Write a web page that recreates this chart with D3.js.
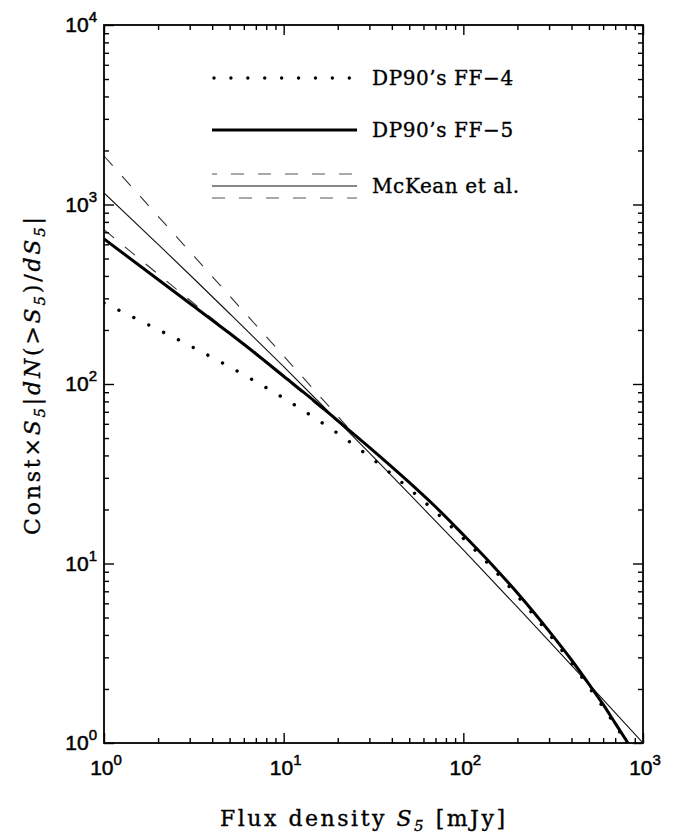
<!DOCTYPE html>
<html>
<head>
<meta charset="utf-8">
<script src="https://cdn.jsdelivr.net/npm/d3@7"></script>
<style>
  body { margin: 0; background: #fff; }
  text { font-family: "DejaVu Serif", serif; fill: #000; stroke: #000; stroke-width: 0.35; }
  .tick-label { font-family: "Liberation Sans", "DejaVu Sans", sans-serif; stroke-width: 0.5; }
</style>
</head>
<body>
<svg id="chart" width="674" height="840"></svg>
<script>
// Source counts at 5 GHz: S * |dN(>S)/dS| in arbitrary units.
const mckeanFlux  = [1, 2, 3, 5, 10, 20, 30, 50, 100, 200, 300, 500, 1000];
const mckeanValue = [1159, 600, 406, 247, 125, 62.2, 41.3, 24.4, 11.9, 5.71, 3.70, 2.13, 1.0];

// McKean et al. 1-sigma envelope (fitted range only)
const envelopeFlux  = [1, 24];
const envelopeUpper = [1862, 54];
const envelopeLower = [724, 53];

const ff5Flux  = [1, 2, 3, 5, 7, 10, 15, 20, 30, 50, 70, 100, 150, 200, 300, 400, 500, 600, 700, 825];
const ff5Value = [642.7, 382.4, 281.9, 191.6, 147.5, 110.5, 79.6, 62.5, 44.4, 28.3, 20.7, 14.45,
                  9.45, 6.85, 4.2, 2.9, 2.13, 1.64, 1.29, 1.0];

const ff4Flux  = [1, 2, 3, 5, 7, 10, 15, 20, 30, 50, 70, 100, 150, 200, 300, 400, 500, 600, 700, 814];
const ff4Value = [282.5, 200.9, 163.6, 124.6, 103.1, 83.4, 64.4, 53.0, 39.4, 26.1, 19.4, 13.8,
                  9.09, 6.59, 4.05, 2.79, 2.05, 1.58, 1.26, 1.0];

const xMajor = [1, 10, 100, 1000];
const yMajor = [1, 10, 100, 1000, 10000];
const xExponents = ["0", "1", "2", "3"];
const yExponents = ["0", "1", "2", "3", "4"];

const legendLabels = ["DP90\u2019s FF\u22124", "DP90\u2019s FF\u22125", "McKean et al."];

const svg = d3.select("#chart");
const plotL = 104, plotR = 643, plotT = 25, plotB = 743;

const x = d3.scaleLog().domain([1, 1000]).range([plotL, plotR]);
const y = d3.scaleLog().domain([1, 10000]).range([plotB, plotT]);

function minorTicks(majors) {
  const out = [];
  majors.slice(0, -1).forEach(m => { for (let k = 2; k <= 9; k++) out.push(m * k); });
  return out;
}
const xMinor = minorTicks(xMajor);
const yMinor = minorTicks(yMajor);

// Clip region for the curves
svg.append("defs").append("clipPath").attr("id", "plot-clip")
  .append("rect").attr("x", plotL).attr("y", plotT)
  .attr("width", plotR - plotL).attr("height", plotB - plotT);

const plot = svg.append("g").attr("clip-path", "url(#plot-clip)");

const line = d3.line().x(d => x(d[0])).y(d => y(d[1])).curve(d3.curveMonotoneX);
const zip = (a, b) => a.map((v, i) => [v, b[i]]);

// McKean et al. envelope (dashed)
[envelopeUpper, envelopeLower].forEach(vals => {
  plot.append("path")
    .attr("d", line(zip(envelopeFlux, vals)))
    .attr("fill", "none").attr("stroke", "#333").attr("stroke-width", 1.1)
    .attr("stroke-dasharray", "13,14");
});

// McKean et al. best fit (thin solid)
plot.append("path")
  .attr("d", line(zip(mckeanFlux, mckeanValue)))
  .attr("fill", "none").attr("stroke", "#111").attr("stroke-width", 1.1);

// DP90 FF-4 (dotted)
plot.append("path")
  .attr("d", line(zip(ff4Flux, ff4Value)))
  .attr("fill", "none").attr("stroke", "#000").attr("stroke-width", 3.4)
  .attr("stroke-linecap", "round").attr("stroke-dasharray", "0.01,16.6");

// DP90 FF-5 (thick solid)
plot.append("path")
  .attr("d", line(zip(ff5Flux, ff5Value)))
  .attr("fill", "none").attr("stroke", "#000").attr("stroke-width", 3);

// Axes on all four sides, ticks pointing inward
function addAxis(axisFn, scale, transform, majors, minors) {
  const gMaj = svg.append("g").attr("transform", transform)
    .call(axisFn(scale).tickValues(majors).tickSize(-10).tickFormat(""));
  const gMin = svg.append("g").attr("transform", transform)
    .call(axisFn(scale).tickValues(minors).tickSize(-5).tickFormat(""));
  [gMaj, gMin].forEach(g => {
    g.select(".domain").remove();
    g.selectAll(".tick line").attr("stroke", "#000").attr("stroke-width", 1.4);
  });
}
addAxis(d3.axisBottom, x, `translate(0,${plotB})`, xMajor, xMinor);
addAxis(d3.axisTop, x, `translate(0,${plotT})`, xMajor, xMinor);
addAxis(d3.axisLeft, y, `translate(${plotL},0)`, yMajor, yMinor);
addAxis(d3.axisRight, y, `translate(${plotR},0)`, yMajor, yMinor);

svg.append("rect").attr("x", plotL).attr("y", plotT)
  .attr("width", plotR - plotL).attr("height", plotB - plotT)
  .attr("fill", "none").attr("stroke", "#000").attr("stroke-width", 1.8);

// Tick labels 10^n
xMajor.forEach((v, i) => {
  const t = svg.append("text").attr("class", "tick-label")
    .attr("x", x(v) + 2).attr("y", 775).attr("text-anchor", "middle")
    .attr("font-size", 21);
  t.append("tspan").text("10");
  t.append("tspan").attr("dy", -10).attr("font-size", 15).text(xExponents[i]);
});
yMajor.forEach((v, i) => {
  const t = svg.append("text").attr("class", "tick-label")
    .attr("x", 97).attr("y", y(v) + 7).attr("text-anchor", "end")
    .attr("font-size", 21);
  t.append("tspan").text("10");
  t.append("tspan").attr("dy", -10).attr("font-size", 15).text(yExponents[i]);
});

// Axis titles
const xt = svg.append("text").attr("x", 220).attr("y", 826)
  .attr("font-size", 22).attr("textLength", 285).attr("lengthAdjust", "spacing");
xt.append("tspan").text("Flux density ");
xt.append("tspan").attr("font-style", "italic").text("S");
xt.append("tspan").attr("font-size", 15).attr("dy", 5).attr("font-style", "italic").text("5");
xt.append("tspan").attr("dy", -5).text(" [mJy]");

const yt = svg.append("text")
  .attr("transform", `translate(40,${(plotT + plotB) / 2 - 8}) rotate(-90)`)
  .attr("text-anchor", "middle").attr("font-size", 22)
  .attr("textLength", 318).attr("lengthAdjust", "spacing");
const ySeg = [
  ["Const\u00d7", null, 0], ["S", "italic", 0], ["5", "italic", 5], ["|", null, -5],
  ["dN", "italic", 0], ["(>", null, 0], ["S", "italic", 0], ["5", "italic", 5],
  [")/", null, -5], ["dS", "italic", 0], ["5", "italic", 5], ["|", null, -5]
];
ySeg.forEach(([txt, style, dy]) => {
  const s = yt.append("tspan").text(txt).attr("dy", dy);
  if (style) s.attr("font-style", style);
  if (dy === 5) s.attr("font-size", 15);
});

// Legend
const legX0 = 212, legX1 = 357, legText = 372;
svg.append("line").attr("x1", legX0 + 2).attr("x2", legX1).attr("y1", 78).attr("y2", 78)
  .attr("stroke", "#000").attr("stroke-width", 3.4).attr("stroke-linecap", "round")
  .attr("stroke-dasharray", "0.01,16.9");
svg.append("line").attr("x1", legX0).attr("x2", legX1).attr("y1", 130).attr("y2", 130)
  .attr("stroke", "#000").attr("stroke-width", 3);
svg.append("line").attr("x1", legX0).attr("x2", legX1).attr("y1", 174).attr("y2", 174)
  .attr("stroke", "#555").attr("stroke-width", 1.2).attr("stroke-dasharray", "13,14")
  .attr("stroke-dashoffset", 8);
svg.append("line").attr("x1", legX0).attr("x2", legX1).attr("y1", 186).attr("y2", 186)
  .attr("stroke", "#111").attr("stroke-width", 1.1);
svg.append("line").attr("x1", legX0).attr("x2", legX1).attr("y1", 198).attr("y2", 198)
  .attr("stroke", "#555").attr("stroke-width", 1.2).attr("stroke-dasharray", "13,14");

[78, 130, 186].forEach((ly, i) => {
  svg.append("text").attr("x", legText).attr("y", ly + 7)
    .attr("font-size", 20).attr("letter-spacing", 0.6).text(legendLabels[i]);
});
</script>
</body>
</html>
